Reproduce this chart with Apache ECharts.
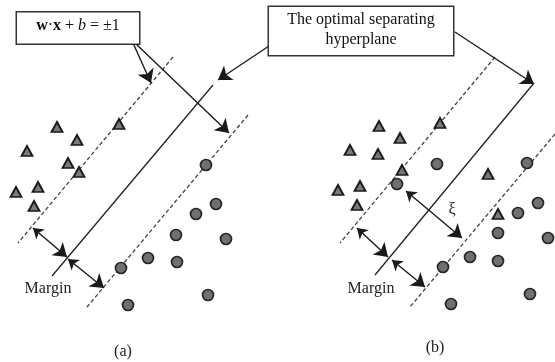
<!DOCTYPE html>
<html>
<head>
<meta charset="utf-8">
<script src="https://cdn.jsdelivr.net/npm/echarts@6/dist/echarts.min.js"></script>
<style>html,body{margin:0;padding:0;background:#fff}#c{width:555px;height:362px}</style>
</head>
<body>
<div id="c"></div>
<script>
// Panel (a) points
const triA = [[57,127],[77,140],[27,151],[68,163],[79,172],[119,124],[16,192],[38,187],[34,206]];
const circA = [[206,165],[216,204],[196,214],[176,235],[226,239],[148,258],[177,262],[121,268],[208,295],[128,305]];
// Panel (b) points
const triB = [[379,126],[400,138],[350,150],[378,154],[402,170],[440,123],[338,190],[360,186],[357,205],[488,174],[498,214]];
const circB = [[437,164],[397,184],[527,163],[518,213],[538,203],[498,233],[548,238],[470,257],[498,261],[443,267],[530,294],[451,304]];
// Boundary lines
const dashedLines = [[[173,57],[18,243]],[[248,115],[87,307]],[[495,57],[340,243]],[[555,134],[410,307]]];
const solidLines = [[[213,85],[52,276]],[[534,83],[375,275]]];
// Arrows
const singleArrows = [[[133,43],[151,83]],[[135,43],[229,133]],[[269,46],[218,80]],[[455,32],[534,84]]];
const doubleArrows = [[[33,228],[67,257]],[[68,259],[104,288]],[[357,228],[388,257]],[[392,260],[425,287]],[[406,191],[462,238]]];
// Text annotations
const boxLabels = [
  {pos:[78,28], text:'{b|w}·{b|x} + {i|b} = ±1', w:122, h:31},
  {pos:[361,31], text:'The optimal separating\nhyperplane', w:184, h:48}
];
const plainLabels = [
  {pos:[48,289], text:'Margin'},
  {pos:[371,289], text:'Margin'},
  {pos:[123,352], text:'(a)'},
  {pos:[435,348], text:'(b)'},
  {pos:[452,210], text:'ξ'}
];

const FONT = 'Liberation Serif';
const chart = echarts.init(document.getElementById('c'), null, {renderer:'canvas'});
const toLines = arr => arr.map(c => ({coords:c}));
const triStyle = {color:'#7a7a7a', borderColor:'#1a1a1a', borderWidth:1.8, opacity:1};
const circStyle = {color:'#707070', borderColor:'#262626', borderWidth:1.7, opacity:1};

chart.setOption({
  animation:false,
  backgroundColor:'#fff',
  grid:{left:0,right:0,top:0,bottom:0},
  xAxis:{type:'value',min:0,max:555,show:false},
  yAxis:{type:'value',min:0,max:362,inverse:true,show:false},
  series:[
    {type:'lines',coordinateSystem:'cartesian2d',data:toLines(dashedLines),symbol:['none','none'],
     lineStyle:{color:'#444',width:1.3,type:[4,2.5],opacity:1},z:2},
    {type:'lines',coordinateSystem:'cartesian2d',data:toLines(solidLines),symbol:['none','none'],
     lineStyle:{color:'#222',width:1.3,type:'solid',opacity:1},z:2},
    {type:'lines',coordinateSystem:'cartesian2d',data:toLines(singleArrows),symbol:['none','arrow'],symbolSize:[10,13],
     lineStyle:{color:'#1a1a1a',width:1.4,opacity:1},z:3},
    {type:'lines',coordinateSystem:'cartesian2d',data:toLines(doubleArrows),symbol:['arrow','arrow'],symbolSize:[10,13],
     lineStyle:{color:'#1a1a1a',width:1.4,opacity:1},z:3},
    {type:'scatter',data:triA.concat(triB),symbol:'triangle',symbolSize:[11,10],itemStyle:triStyle,z:4},
    {type:'scatter',data:circA.concat(circB),symbol:'circle',symbolSize:11,itemStyle:circStyle,z:4},
    {type:'scatter',symbolSize:0,z:5,itemStyle:{opacity:1},
     data:boxLabels.map(b=>({value:b.pos,label:{show:true,position:'inside',formatter:b.text,opacity:1,
       width:b.w-12,height:b.h-6,align:'center',verticalAlign:'middle',
       backgroundColor:'#ffffff',borderColor:'#333',borderWidth:1.5,padding:[3,6],
       fontFamily:FONT,fontSize:16,color:'#111',lineHeight:20,
       rich:{b:{fontWeight:'bold',fontFamily:FONT,fontSize:16,color:'#111'},i:{fontStyle:'italic',fontFamily:FONT,fontSize:16,color:'#111'}}}}))},
    {type:'scatter',symbolSize:0,z:5,itemStyle:{opacity:1},
     data:plainLabels.map(l=>({value:l.pos,label:{show:true,position:'inside',formatter:l.text,opacity:1,
       fontFamily:FONT,fontSize:16,color:'#222'}}))}
  ]
});
</script>
</body>
</html>
